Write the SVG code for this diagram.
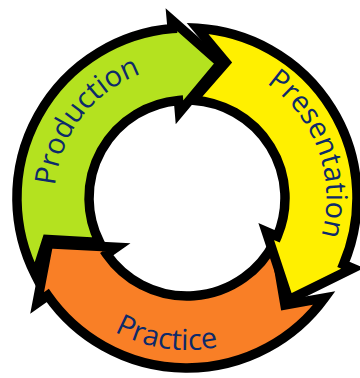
<svg xmlns="http://www.w3.org/2000/svg" width="360" height="378" viewBox="0 0 360 378">
<style>
.arrow{stroke:#000;stroke-width:9.5;stroke-linejoin:miter;stroke-miterlimit:10}
.label{font-family:"Open Sans","Noto Sans","Liberation Sans",sans-serif;font-size:29px;fill:#0d2a6a}
</style>
<defs>
<path id="pProduction" d="M64.6,248.7 A132.5,132.5 0 0 1 204.3,66.6"/>
<path id="pPresentation" d="M211.7,60.7 A139.5,139.5 0 0 1 293.5,288.0"/>
<path id="pPractice" d="M45.8,254.2 A152,152 0 0 0 306.3,292.2"/>
</defs>
<rect width="360" height="378" fill="#fff"/>
<g id="connectors"></g>
<g id="production">
<path class="arrow" fill="#b4e21f" d="M35.5,275.2 A170,170 0 0 1 172.2,28.6 L171.4,19.7 L220.6,63.1 L179.5,112.3 L178.5,100.4 A98,98 0 0 0 99.7,242.5 L47.0,239.5 Z"/>
<text class="label"><textPath href="#pProduction" startOffset="50%" text-anchor="middle">Production</textPath></text>
</g>
<g id="practice">
<path class="arrow" fill="#f97f26" d="M324.5,297.9 A170,170 0 0 1 47.7,295.5 L37.1,303.0 L48.4,243.8 L116.5,247.3 L106.7,254.2 A98,98 0 0 0 274.3,242.5 L285.0,304.9 Z"/>
<text class="label"><textPath href="#pPractice" startOffset="50%" text-anchor="middle">Practice</textPath></text>
</g>
<g id="presentation">
<path class="arrow" fill="#fff000" d="M197.4,28.3 A170,170 0 0 1 343.5,264.4 L352.7,268.3 L288.8,299.8 L266.2,231.6 L277.2,236.3 A98,98 0 0 0 193.0,100.2 L225.9,62.5 Z"/>
<text class="label"><textPath href="#pPresentation" startOffset="50%" text-anchor="middle">Presentation</textPath></text>
</g>
</svg>
